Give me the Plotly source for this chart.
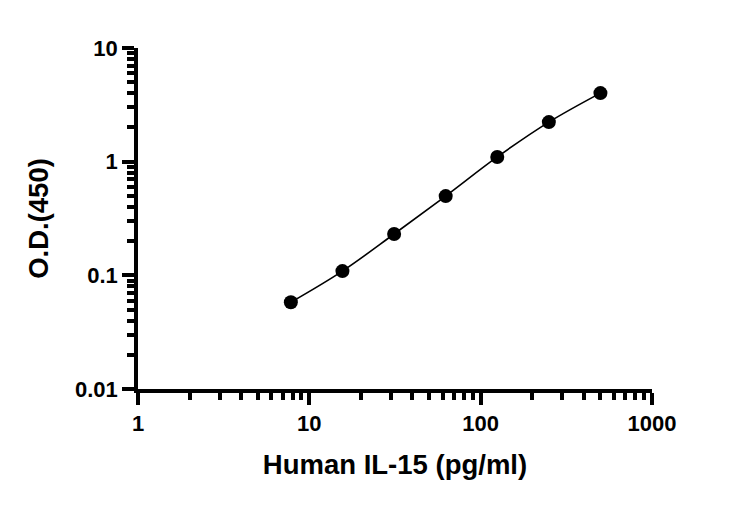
import plotly.graph_objects as go

# standard curve: concentration (pg/ml) vs O.D. at 450 nm
conc = [7.8, 15.6, 31.25, 62.5, 125, 250, 500]
od = [0.058, 0.109, 0.231, 0.498, 1.10, 2.23, 4.01]

x_ticks = [1, 10, 100, 1000]
y_ticks = [0.01, 0.1, 1, 10]

font_name = "Liberation Sans"

fig = go.Figure()
fig.add_trace(go.Scatter(
    x=conc, y=od, mode="lines+markers",
    line=dict(color="black", width=1.6, shape="spline"),
    marker=dict(color="black", size=14),
    showlegend=False,
))

axis_common = dict(
    type="log",
    showgrid=False, zeroline=False,
    showline=True, linecolor="black", linewidth=3.5,
    ticks="outside", ticklen=12, tickwidth=3.5, tickcolor="black",
    tickfont=dict(family=font_name, size=22, color="black", weight="bold"),
    minor=dict(ticks="outside", ticklen=7, tickwidth=3.5, tickcolor="black", dtick="D1"),
)

fig.update_xaxes(
    range=[0, 3], tickvals=x_ticks, ticktext=[str(v) for v in x_ticks],
    title=dict(text="Human IL-15 (pg/ml)", standoff=21,
               font=dict(family=font_name, size=27.5, color="black", weight="bold")),
    **axis_common,
)
fig.update_yaxes(
    range=[-2, 1], tickvals=y_ticks, ticktext=[str(v) for v in y_ticks],
    title=dict(text="O.D.(450)", standoff=19,
               font=dict(family=font_name, size=27.5, color="black", weight="bold")),
    **axis_common,
)

# the page body adds 8px around the figure
fig.update_layout(
    width=724, height=499,
    margin=dict(l=130, r=80, t=40, b=118),
    plot_bgcolor="white", paper_bgcolor="white",
)

fig.write_html("out.html")
